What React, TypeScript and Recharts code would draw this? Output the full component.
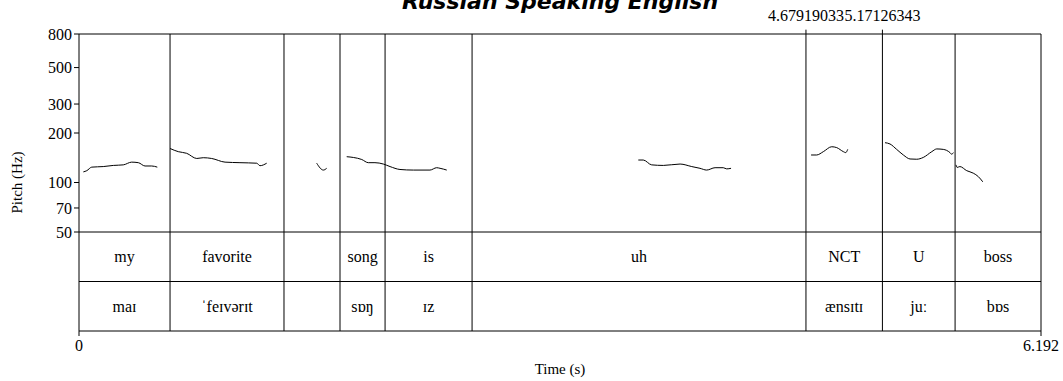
import { ComposedChart, XAxis, YAxis, Line, ReferenceLine, ReferenceArea } from "recharts";

const DURATION = 6.192;
const pitchTicks = [50, 70, 100, 200, 300, 500, 800];

// interval boundaries (s), shared by both tiers
const boundaries = [0.586, 1.3195, 1.68, 1.97, 2.53, 4.67919033, 5.17126343, 5.639];
const markedTimes = [4.67919033, 5.17126343];
const words = ["my", "favorite", "", "song", "is", "uh", "NCT", "U", "boss"];
const phones = ["maɪ", "ˈfeɪvərɪt", "", "sɒŋ", "ɪz", "", "ænsɪtɪ", "juː", "bɒs"];

// pitch contour pieces: time (s) / f0 (Hz)
const myT = [0.028, 0.05, 0.082, 0.156, 0.221, 0.285, 0.339, 0.382, 0.425, 0.468, 0.504];
const myHz = [116, 118, 124, 125, 127, 128, 133, 132, 126, 126, 124];
const favT = [0.586, 0.639, 0.693, 0.758, 0.8, 0.854, 0.94, 1.036, 1.144, 1.165, 1.208];
const favHz = [161, 154, 150.5, 140, 141.5, 140, 133, 132, 131, 126.5, 131];
const gapT = [1.53, 1.573, 1.594];
const gapHz = [131, 119, 122];
const songT = [1.723, 1.766, 1.82, 1.862, 1.905, 1.959, 2.002, 2.066, 2.152, 2.259, 2.302, 2.324, 2.367];
const songHz = [143.5, 142, 138, 132, 132, 129.5, 125, 120, 119, 119, 123, 122, 119];
const uhT = [3.6, 3.632, 3.686, 3.761, 3.869, 3.944, 3.997, 4.04, 4.094, 4.147, 4.169, 4.197];
const uhHz = [137, 137, 128, 127, 129.5, 125, 122, 119, 123, 123, 121, 122];
const nctT = [4.712, 4.748, 4.791, 4.845, 4.877, 4.92, 4.935, 4.948];
const nctHz = [147, 147, 154, 165, 163, 154, 152, 159];
const uT = [5.188, 5.22, 5.263, 5.306, 5.349, 5.392, 5.434, 5.489, 5.521, 5.563, 5.606, 5.617, 5.628];
const uHz = [174.6, 171.5, 159, 147, 139, 138.5, 142, 154, 160, 159, 152, 148.5, 152];
const bossT = [5.645, 5.652, 5.67, 5.714, 5.756, 5.789, 5.817];
const bossHz = [128, 123.5, 125, 118, 114, 108.5, 101];

const seg = (ts: number[], hz: number[]) => ts.map((t, i) => ({ t, hz: hz[i] }));
const segments = [
  seg(myT, myHz),
  seg(favT, favHz),
  seg(gapT, gapHz),
  seg(songT, songHz),
  seg(uhT, uhHz),
  seg(nctT, nctHz),
  seg(uT, uHz),
  seg(bossT, bossHz),
];

const SERIF = "'Liberation Serif', 'Times New Roman', serif";
const TOP = 800;
const FLOOR = 50;
const TIER_MID = 25;
const TIER_LOW = 12.5;

export default function App() {
  const edges = [0, ...boundaries, DURATION];
  const textStyle = { fill: "#000", fontFamily: SERIF, fontSize: 16 };

  return (
    <div style={{ position: "absolute", left: 0, top: 0 }}>
      <ComposedChart width={1063} height={381} margin={{ top: 34, right: 22, bottom: 0, left: 17 }}>
        <text
          x={560}
          y={9}
          textAnchor="middle"
          fontFamily="'DejaVu Sans', sans-serif"
          fontWeight="bold"
          fontStyle="italic"
          fontSize={22}
          fill="#000"
        >
          Russian Speaking English
        </text>
        <XAxis
          type="number"
          dataKey="t"
          domain={[0, DURATION]}
          ticks={[0, DURATION]}
          allowDataOverflow
          height={50}
          tickSize={5}
          tickMargin={4}
          tickFormatter={(v: number) => String(v)}
          tick={textStyle}
          axisLine={{ stroke: "#000" }}
          tickLine={{ stroke: "#000" }}
          label={{ value: "Time (s)", position: "insideBottom", offset: 7, ...textStyle, fontSize: 15 }}
        />
        <YAxis
          type="number"
          scale="log"
          domain={[TIER_LOW, TOP]}
          ticks={pitchTicks}
          allowDataOverflow
          width={62}
          tickSize={5}
          tickMargin={2}
          tick={textStyle}
          axisLine={{ stroke: "#000" }}
          tickLine={{ stroke: "#000" }}
          label={{
            value: "Pitch (Hz)",
            angle: -90,
            position: "insideLeft",
            offset: 0,
            ...textStyle,
            fontSize: 15,
            style: { textAnchor: "middle" },
          }}
        />

        <ReferenceLine y={TOP} stroke="#000" />
        <ReferenceLine y={FLOOR} stroke="#000" />
        <ReferenceLine y={TIER_MID} stroke="#000" />
        <ReferenceLine x={DURATION} stroke="#000" />

        {boundaries.map((b) =>
          markedTimes.includes(b) ? (
            <ReferenceLine
              key={b}
              segment={[
                { x: b, y: 850 },
                { x: b, y: TIER_LOW },
              ]}
              ifOverflow="visible"
              stroke="#000"
              label={{ value: String(b), position: "top", offset: 9, ...textStyle }}
            />
          ) : (
            <ReferenceLine key={b} x={b} stroke="#000" />
          )
        )}

        {words.map((w, i) => (
          <ReferenceArea
            key={"w" + i}
            x1={edges[i]}
            x2={edges[i + 1]}
            y1={TIER_MID}
            y2={FLOOR}
            fill="none"
            stroke="none"
            label={{ value: w, position: "center", ...textStyle }}
          />
        ))}
        {phones.map((p, i) => (
          <ReferenceArea
            key={"p" + i}
            x1={edges[i]}
            x2={edges[i + 1]}
            y1={TIER_LOW}
            y2={TIER_MID}
            fill="none"
            stroke="none"
            label={{ value: p, position: "center", ...textStyle }}
          />
        ))}

        {segments.map((d, i) => (
          <Line
            key={"s" + i}
            data={d}
            dataKey="hz"
            type="monotone"
            stroke="#000"
            strokeWidth={1}
            dot={false}
            activeDot={false}
            isAnimationActive={false}
          />
        ))}
      </ComposedChart>
    </div>
  );
}
